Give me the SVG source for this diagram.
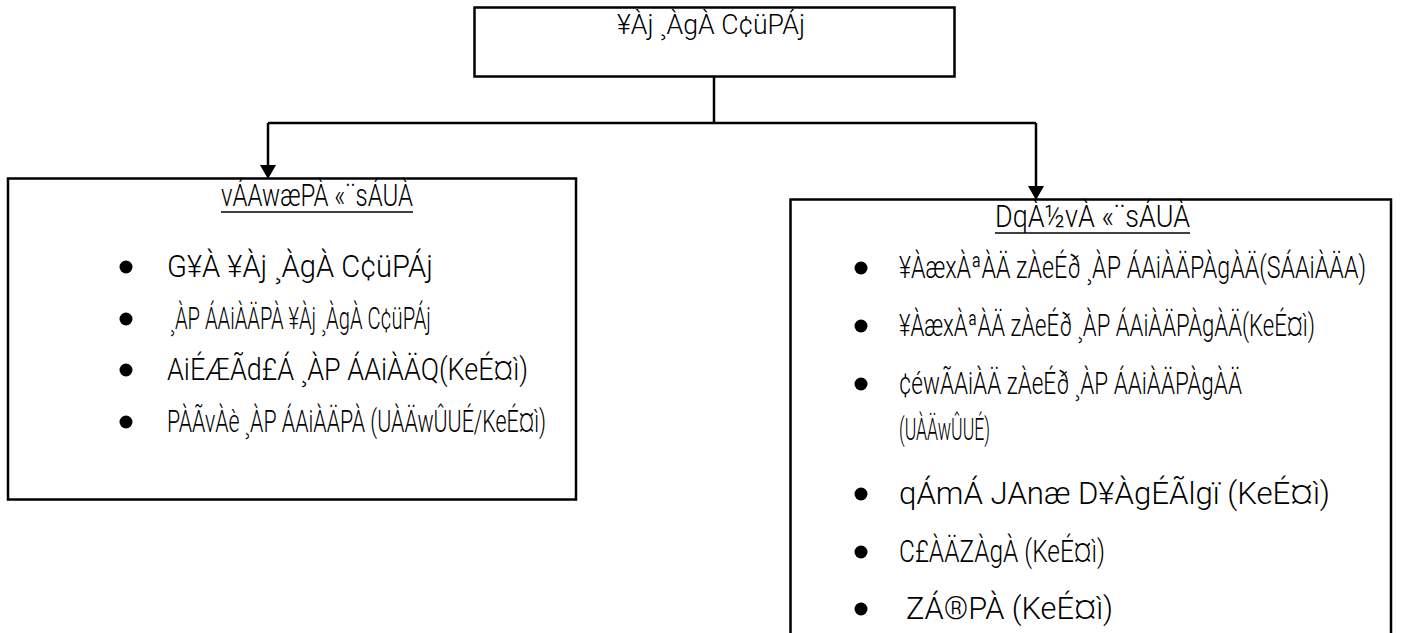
<svg xmlns="http://www.w3.org/2000/svg" width="1401" height="633" viewBox="0 0 1401 633">
<defs>
<style>
.box{fill:#fff;stroke:#000;stroke-width:2.5}
.t{font-family:"Roboto","Liberation Sans",sans-serif;font-weight:300;font-size:31px;fill:#000}
.tt{font-size:27px}
.ln{fill:none;stroke:#000;stroke-width:2.5}
.ul{stroke:#000;stroke-width:1.5}
</style>
</defs>
<rect width="1401" height="633" fill="#fff"/>
<g id="connectors">
<path class="ln" d="M714 76 V123"/>
<path class="ln" d="M268 123 H1036"/>
<path class="ln" d="M268 123 V165"/>
<path class="ln" d="M1036 123 V186"/>
<polygon points="260,165 276,165 268,179" fill="#000"/>
<polygon points="1028,186 1044,186 1036,200" fill="#000"/>
</g>
<g id="node-title">
<rect class="box" x="474.5" y="7.5" width="480" height="69"/>
<text class="t tt" x="617" y="34" textLength="188" lengthAdjust="spacingAndGlyphs">¥Àj ¸ÀgÀ C¢üPÁj</text>
</g>
<g id="node-technical">
<rect class="box" x="8" y="178.5" width="568" height="321"/>
<text class="t" x="221" y="206" textLength="192" lengthAdjust="spacingAndGlyphs">vÁAwæPÀ «¨sÁUÀ</text>
<line class="ul" x1="221" y1="212" x2="413" y2="212"/>
<circle cx="126" cy="267" r="6.5"/>
<text class="t" x="167" y="277" textLength="266" lengthAdjust="spacingAndGlyphs">G¥À ¥Àj ¸ÀgÀ C¢üPÁj</text>
<circle cx="126" cy="319" r="6.5"/>
<text class="t" x="170" y="329" textLength="261" lengthAdjust="spacingAndGlyphs">¸ÀP ÁAiÀÄPÀ ¥Àj ¸ÀgÀ C¢üPÁj</text>
<circle cx="126" cy="370" r="6.5"/>
<text class="t" x="167" y="380" textLength="361" lengthAdjust="spacingAndGlyphs">AiÉÆÃd£Á ¸ÀP ÁAiÀÄQ(KeÉ¤ì)</text>
<circle cx="126" cy="422" r="6.5"/>
<text class="t" x="167" y="432" textLength="379" lengthAdjust="spacingAndGlyphs">PÀÃvÀè ¸ÀP ÁAiÀÄPÀ (UÀÄwÛUÉ/KeÉ¤ì)</text>
</g>
<g id="node-admin">
<rect class="box" x="790.5" y="199.5" width="600.5" height="450"/>
<text class="t" x="995" y="227" textLength="195" lengthAdjust="spacingAndGlyphs">DqÀ½vÀ «¨sÁUÀ</text>
<line class="ul" x1="995" y1="233" x2="1190" y2="233"/>
<circle cx="861" cy="268" r="6.5"/>
<text class="t" x="899" y="278" textLength="467" lengthAdjust="spacingAndGlyphs">¥ÀæxÀªÀÄ zÀeÉð ¸ÀP ÁAiÀÄPÀgÀÄ(SÁAiÀÄA)</text>
<circle cx="861" cy="326" r="6.5"/>
<text class="t" x="899" y="336" textLength="416" lengthAdjust="spacingAndGlyphs">¥ÀæxÀªÀÄ zÀeÉð ¸ÀP ÁAiÀÄPÀgÀÄ(KeÉ¤ì)</text>
<circle cx="861" cy="384" r="6.5"/>
<text class="t" x="899" y="394" textLength="343" lengthAdjust="spacingAndGlyphs">¢éwÃAiÀÄ zÀeÉð ¸ÀP ÁAiÀÄPÀgÀÄ</text>
<text class="t" x="899" y="440" textLength="91" lengthAdjust="spacingAndGlyphs">(UÀÄwÛUÉ)</text>
<circle cx="861" cy="494" r="6.5"/>
<text class="t" x="899" y="504" textLength="431" lengthAdjust="spacingAndGlyphs">qÁmÁ JAnæ D¥ÀgÉÃlgï  (KeÉ¤ì)</text>
<circle cx="861" cy="552" r="6.5"/>
<text class="t" x="899" y="562" textLength="206" lengthAdjust="spacingAndGlyphs">C£ÀÄZÀgÀ (KeÉ¤ì)</text>
<circle cx="861" cy="609" r="6.5"/>
<text class="t" x="906" y="619" textLength="207" lengthAdjust="spacingAndGlyphs">ZÁ®PÀ  (KeÉ¤ì)</text>
</g>
</svg>
